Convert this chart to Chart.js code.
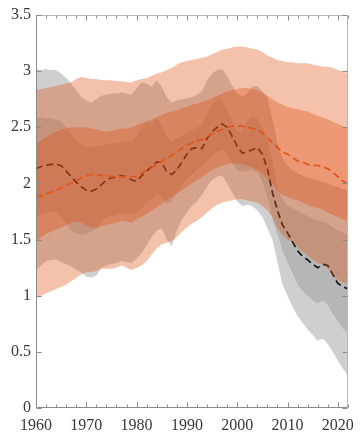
<!DOCTYPE html>
<html>
<head>
<meta charset="utf-8">
<script src="https://cdn.jsdelivr.net/npm/chart.js@4.4.1/dist/chart.umd.min.js"></script>
<style>
  html, body { margin: 0; padding: 0; background: #ffffff; }
  #wrap { width: 362px; height: 433px; }
</style>
</head>
<body>
<div id="wrap"><canvas id="c" width="362" height="433"></canvas></div>
<script>
// Years on the horizontal axis
const years = [
  1960,1961,1962,1963,1964,1965,1966,1967,1968,1969,
  1970,1971,1972,1973,1974,1975,1976,1977,1978,1979,
  1980,1981,1982,1983,1984,1985,1986,1987,1988,1989,
  1990,1991,1992,1993,1994,1995,1996,1997,1998,1999,
  2000,2001,2002,2003,2004,2005,2006,2007,2008,2009,
  2010,2011,2012,2013,2014,2015,2016,2017,2018,2019,
  2020,2021,2022
];

// Grey ensemble: median, inner band, outer band
const greyMedian = [
  2.13,2.15,2.16,2.17,2.17,2.16,2.11,2.06,2.01,1.97,
  1.94,1.93,1.95,1.99,2.03,2.05,2.06,2.07,2.06,2.03,
  2.02,2.07,2.11,2.15,2.19,2.19,2.10,2.08,2.12,2.19,
  2.26,2.31,2.32,2.31,2.40,2.46,2.50,2.53,2.50,2.42,
  2.33,2.27,2.28,2.30,2.32,2.26,2.13,1.92,1.76,1.63,
  1.56,1.48,1.40,1.35,1.32,1.28,1.25,1.28,1.27,1.19,
  1.11,1.08,1.06
];
const greyInnerHigh = [
  2.59,2.59,2.58,2.58,2.57,2.55,2.50,2.44,2.38,2.35,
  2.33,2.32,2.33,2.34,2.35,2.35,2.36,2.37,2.38,2.37,
  2.42,2.50,2.56,2.52,2.58,2.52,2.42,2.38,2.40,2.43,
  2.45,2.47,2.50,2.52,2.62,2.70,2.75,2.74,2.66,2.55,
  2.46,2.46,2.56,2.60,2.58,2.50,2.38,2.20,1.98,1.86,
  1.80,1.78,1.76,1.73,1.71,1.69,1.67,1.66,1.64,1.61,
  1.58,1.56,1.54
];
const greyInnerLow = [
  1.71,1.72,1.74,1.75,1.74,1.70,1.64,1.58,1.55,1.54,
  1.55,1.57,1.60,1.66,1.70,1.71,1.72,1.74,1.73,1.72,
  1.74,1.78,1.83,1.86,1.90,1.88,1.82,1.84,1.92,1.98,
  2.03,2.08,2.12,2.15,2.20,2.24,2.28,2.30,2.26,2.18,
  2.12,2.10,2.11,2.12,2.10,2.02,1.88,1.68,1.55,1.40,
  1.30,1.20,1.10,1.04,1.00,0.96,0.93,0.96,0.92,0.84,
  0.77,0.71,0.66
];
const greyOuterHigh = [
  3.02,3.01,3.02,3.01,3.01,2.98,2.94,2.89,2.83,2.77,
  2.74,2.72,2.75,2.78,2.79,2.80,2.80,2.81,2.80,2.79,
  2.85,2.90,2.89,2.86,2.92,2.86,2.77,2.72,2.74,2.75,
  2.76,2.77,2.79,2.82,2.92,2.98,3.01,3.02,2.96,2.87,
  2.80,2.77,2.80,2.86,2.87,2.82,2.76,2.58,2.36,2.22,
  2.16,2.12,2.09,2.07,2.05,2.04,2.03,2.01,2.00,1.98,
  1.97,1.95,1.94
];
const greyOuterLow = [
  1.23,1.27,1.31,1.32,1.32,1.30,1.28,1.26,1.23,1.21,
  1.17,1.16,1.18,1.25,1.27,1.28,1.29,1.31,1.30,1.29,
  1.33,1.38,1.45,1.52,1.58,1.60,1.50,1.44,1.58,1.68,
  1.74,1.80,1.84,1.90,1.97,2.03,2.06,2.07,2.00,1.92,
  1.84,1.80,1.81,1.80,1.76,1.70,1.60,1.50,1.30,1.10,
  1.00,0.90,0.82,0.76,0.70,0.65,0.60,0.62,0.57,0.50,
  0.42,0.35,0.29
];

// Orange ensemble: median, inner band, outer band
const orangeMedian = [
  1.88,1.89,1.91,1.92,1.94,1.96,1.98,2.00,2.02,2.05,
  2.07,2.08,2.08,2.07,2.07,2.06,2.06,2.06,2.06,2.06,
  2.06,2.09,2.12,2.14,2.17,2.20,2.22,2.25,2.28,2.31,
  2.34,2.36,2.38,2.39,2.42,2.44,2.46,2.48,2.50,2.51,
  2.51,2.51,2.50,2.49,2.48,2.45,2.41,2.36,2.32,2.28,
  2.26,2.23,2.20,2.19,2.17,2.16,2.16,2.15,2.13,2.10,
  2.06,2.02,2.00
];
const orangeInnerHigh = [
  2.35,2.38,2.41,2.44,2.46,2.48,2.49,2.50,2.50,2.50,
  2.50,2.49,2.48,2.47,2.46,2.47,2.48,2.49,2.49,2.50,
  2.52,2.54,2.55,2.57,2.59,2.61,2.63,2.64,2.65,2.67,
  2.68,2.70,2.71,2.73,2.74,2.76,2.78,2.80,2.82,2.83,
  2.84,2.85,2.85,2.84,2.83,2.81,2.78,2.75,2.72,2.70,
  2.68,2.67,2.66,2.65,2.64,2.62,2.60,2.59,2.57,2.55,
  2.53,2.51,2.49
];
const orangeInnerLow = [
  1.48,1.52,1.55,1.57,1.59,1.61,1.63,1.65,1.66,1.65,
  1.63,1.61,1.60,1.62,1.63,1.64,1.65,1.67,1.66,1.65,
  1.68,1.70,1.73,1.76,1.79,1.82,1.85,1.88,1.91,1.94,
  1.97,2.00,2.03,2.06,2.09,2.12,2.14,2.16,2.17,2.18,
  2.18,2.17,2.16,2.14,2.12,2.09,2.05,2.00,1.94,1.90,
  1.88,1.86,1.85,1.83,1.81,1.79,1.78,1.77,1.74,1.72,
  1.70,1.68,1.67
];
const orangeOuterHigh = [
  2.83,2.84,2.85,2.86,2.87,2.88,2.89,2.90,2.93,2.95,
  2.94,2.93,2.93,2.92,2.92,2.92,2.91,2.91,2.90,2.90,
  2.92,2.93,2.94,2.96,2.98,2.99,3.01,3.03,3.06,3.08,
  3.09,3.10,3.11,3.12,3.13,3.15,3.17,3.19,3.20,3.21,
  3.22,3.22,3.21,3.20,3.19,3.17,3.14,3.12,3.10,3.09,
  3.08,3.08,3.07,3.07,3.07,3.06,3.05,3.04,3.04,3.03,
  3.01,3.00,2.98
];
const orangeOuterLow = [
  0.98,1.00,1.02,1.04,1.06,1.08,1.10,1.13,1.16,1.19,
  1.21,1.21,1.22,1.24,1.24,1.24,1.25,1.27,1.25,1.23,
  1.25,1.27,1.31,1.37,1.42,1.46,1.47,1.49,1.52,1.57,
  1.61,1.64,1.67,1.70,1.74,1.78,1.81,1.83,1.84,1.85,
  1.86,1.86,1.85,1.84,1.83,1.80,1.76,1.70,1.60,1.54,
  1.50,1.48,1.43,1.39,1.36,1.32,1.29,1.28,1.24,1.18,
  1.14,1.12,1.10
];

// Tick settings
const xTickYears = [1960, 1970, 1980, 1990, 2000, 2010, 2020];
const yTickValues = [0, 0.5, 1, 1.5, 2, 2.5, 3, 3.5];

const pts = arr => arr.map((v, i) => ({ x: years[i], y: v }));
const NONE = 'rgba(0,0,0,0)';

function band(upper, lower, color, order) {
  return [
    { data: pts(upper), fill: '+1', backgroundColor: color, borderColor: NONE, borderWidth: 0, pointRadius: 0, order },
    { data: pts(lower), fill: false, backgroundColor: NONE, borderColor: NONE, borderWidth: 0, pointRadius: 0, order }
  ];
}

const datasets = [
  { data: pts(orangeMedian), borderColor: '#e0561c', borderWidth: 1.8, borderDash: [7, 4], fill: false, pointRadius: 0, order: 0 },
  ...band(orangeInnerHigh, orangeInnerLow, 'rgba(224,78,15,0.35)', 1),
  ...band(orangeOuterHigh, orangeOuterLow, 'rgba(224,78,15,0.35)', 2),
  { data: pts(greyMedian), borderColor: '#161616', borderWidth: 1.7, borderDash: [7, 4], fill: false, pointRadius: 0, order: 3 },
  ...band(greyInnerHigh, greyInnerLow, 'rgba(0,0,0,0.12)', 4),
  ...band(greyOuterHigh, greyOuterLow, 'rgba(0,0,0,0.19)', 5)
];

// Box frame with inward ticks on all four sides
const framePlugin = {
  id: 'frame',
  afterDatasetsDraw(chart) {
    const { ctx, chartArea: a, scales: { x, y } } = chart;
    const L = Math.round(a.left) + 0.5, R = Math.round(a.right) - 0.5;
    const T = Math.round(a.top) + 0.5, B = Math.round(a.bottom) - 0.5;
    ctx.save();
    ctx.lineWidth = 1;
    ctx.strokeStyle = '#b8b8b8';
    ctx.beginPath();
    ctx.moveTo(L, T); ctx.lineTo(R, T); ctx.lineTo(R, B);
    ctx.stroke();
    ctx.strokeStyle = '#8a8a8a';
    ctx.beginPath();
    ctx.moveTo(L, T); ctx.lineTo(L, B); ctx.lineTo(R, B);
    ctx.stroke();

    ctx.beginPath();
    for (let yr = x.min; yr <= x.max; yr += 2) {
      const px = Math.round(x.getPixelForValue(yr)) + 0.5;
      const len = xTickYears.includes(yr) ? 5 : 3;
      ctx.moveTo(px, B); ctx.lineTo(px, B - len);
      ctx.moveTo(px, T); ctx.lineTo(px, T + len);
    }
    yTickValues.forEach(v => {
      const py = Math.round(y.getPixelForValue(v)) + 0.5;
      ctx.moveTo(L, py); ctx.lineTo(L + 5, py);
      ctx.moveTo(R, py); ctx.lineTo(R - 5, py);
    });
    ctx.stroke();
    ctx.restore();
  }
};

// Serif tick labels throughout
Chart.defaults.font.family = 'Liberation Serif';
Chart.defaults.font.size = 16;
const tickFont = { family: 'Liberation Serif', size: 16, weight: 'normal' };

new Chart(document.getElementById('c'), {
  type: 'line',
  data: { datasets },
  options: {
    responsive: false,
    animation: false,
    devicePixelRatio: 1,
    layout: { padding: { top: 15, right: 6, left: 0, bottom: 0 } },
    plugins: { legend: { display: false }, tooltip: { enabled: false } },
    elements: { line: { tension: 0 }, point: { radius: 0 } },
    scales: {
      x: {
        type: 'linear', min: 1960, max: 2022,
        grid: { display: false, drawTicks: false },
        border: { display: false },
        ticks: {
          stepSize: 10, includeBounds: false, autoSkip: false, maxRotation: 0,
          padding: 8, color: '#383838', font: tickFont,
          callback: v => (xTickYears.includes(v) ? String(v) : '')
        },
        afterFit(s) { s.height = 25; }
      },
      y: {
        type: 'linear', min: 0, max: 3.5,
        grid: { display: false, drawTicks: false },
        border: { display: false },
        ticks: {
          stepSize: 0.5, padding: 5, color: '#383838', font: tickFont,
          callback: v => (yTickValues.includes(v) ? String(v) : '')
        },
        afterFit(s) { s.width = 36; }
      }
    }
  },
  plugins: [framePlugin]
});
</script>
</body>
</html>
